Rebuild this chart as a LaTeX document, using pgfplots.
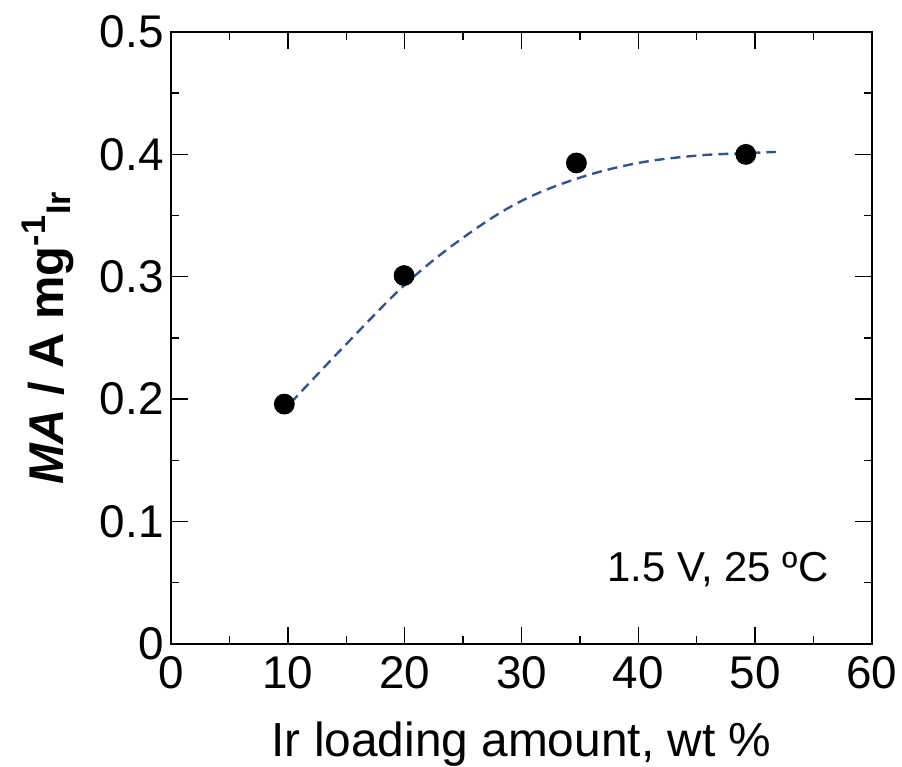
\documentclass[border=0pt]{standalone}
\usepackage{pgfplots}
\pgfplotsset{compat=1.18}
\usepackage{fontspec}
\setmainfont{Liberation Sans}
\definecolor{fitblue}{HTML}{2F5597}
\begin{document}
\begin{tikzpicture}
\begin{axis}[
  scale only axis,
  width=350.5bp, height=306bp,
  xmin=0, xmax=60, ymin=0, ymax=0.5,
  xtick={0,10,...,60},
  ytick={0,0.1,0.2,0.3,0.4,0.5},
  minor x tick num=1, minor y tick num=1,
  tick align=inside,
  tick pos=both,
  major tick length=8.5bp,
  minor tick length=4bp,
  axis line style={line width=0.7bp},
  every tick/.style={black, line width=0.7bp},
  /pgf/number format/assume math mode=true,
  /pgf/number format/fixed,
  tick label style={font=\fontsize{23}{25}\selectfont},
  xticklabel style={inner xsep=0pt, inner ysep=6bp},
  yticklabel style={inner sep=3.5bp},
  xlabel={Ir loading amount, wt \%},
  ylabel={\textbf{\textit{MA} / A mg\textsuperscript{-1}\textsubscript{Ir}}},
  xlabel style={font=\fontsize{24}{27}\selectfont, inner sep=0pt, yshift=-10.5bp},
  ylabel style={font=\fontsize{24.5}{27}\selectfont, yshift=6bp},
  clip=false,
]
\addplot[fitblue, line width=1.2bp, dash pattern=on 5bp off 3bp, smooth, tension=0.6] coordinates {
  (10.25,0.197) (15,0.245) (20.3,0.296) (25.3,0.334) (30,0.362)
  (35,0.381) (40,0.393) (45,0.399) (49.2,0.401) (51.8,0.402)
};
\addplot[only marks, mark=*, mark size=5bp, black] coordinates {
  (9.7,0.196) (19.95,0.301) (34.7,0.393) (49.2,0.400)
};
\node[anchor=east, font=\fontsize{21}{24}\selectfont, inner sep=0pt] at (axis cs:56.3,0.061) {1.5 V, 25 ºC};
\coordinate (sw) at (rel axis cs:0,0);
\coordinate (ne) at (rel axis cs:1,1);
\end{axis}
\path (sw) ++(-85.5bp,-61.5bp);
\path (ne) ++(15bp,16bp);
\end{tikzpicture}
\end{document}
